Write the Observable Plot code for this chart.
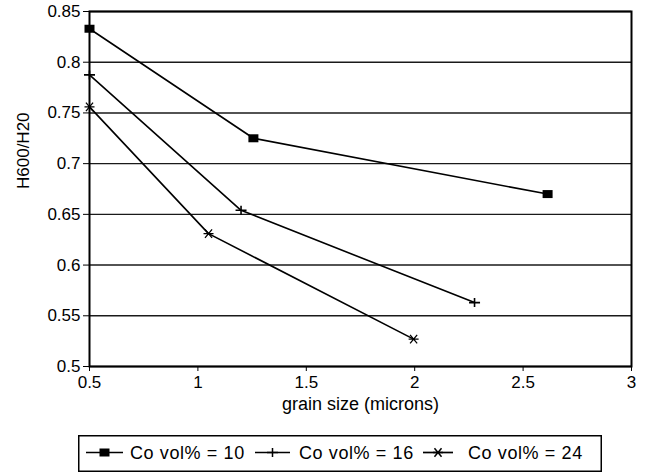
<!DOCTYPE html>
<html><head><meta charset="utf-8">
<script src="https://cdn.jsdelivr.net/npm/d3@7"></script>
<script src="https://cdn.jsdelivr.net/npm/@observablehq/plot@0.6"></script>
<style>
html,body{margin:0;padding:0;background:#fff;}
#wrap{position:relative;width:647px;height:475px;font-family:"Liberation Sans",Arial,sans-serif;overflow:hidden;}
#wrap svg{display:block;}
#legend{position:absolute;left:78px;top:435px;}
</style></head><body><div id="wrap"></div>
<script>
// ---- data ----
const seriesNames = ["Co vol% = 10", "Co vol% = 16", "Co vol% = 24"];
const grain10 = [0.5, 1.256, 2.613];
const ratio10 = [0.833, 0.725, 0.670];
const grain16 = [0.5, 1.199, 2.276];
const ratio16 = [0.7875, 0.654, 0.563];
const grain24 = [0.5, 1.049, 1.995];
const ratio24 = [0.756, 0.631, 0.527];
const xTicks = [0.5, 1, 1.5, 2, 2.5, 3];
const xTickLabels = ["0.5", "1", "1.5", "2", "2.5", "3"];
const yTicks = [0.5, 0.55, 0.6, 0.65, 0.7, 0.75, 0.8, 0.85];
const yTickLabels = ["0.5", "0.55", "0.6", "0.65", "0.7", "0.75", "0.8", "0.85"];
const xLabel = "grain size (microns)";
const yLabel = "H600/H20";

const toRows = (xs, ys) => xs.map((x, i) => ({x, y: ys[i]}));
const d10 = toRows(grain10, ratio10);
const d16 = toRows(grain16, ratio16);
const d24 = toRows(grain24, ratio24);

// ---- marker symbols ----
const squareSym = {draw(ctx) { ctx.rect(-5, -4, 10, 8); }};
const plusSym = {draw(ctx) { ctx.moveTo(-5.5, 0); ctx.lineTo(5.5, 0); ctx.moveTo(0, -4.5); ctx.lineTo(0, 4.5); }};
const starSym = {draw(ctx) {
  ctx.moveTo(-5, 0); ctx.lineTo(5, 0);
  const a = 50 * Math.PI / 180, r = 5.5;
  ctx.moveTo(-r * Math.cos(a), -r * Math.sin(a)); ctx.lineTo(r * Math.cos(a), r * Math.sin(a));
  ctx.moveTo(-r * Math.cos(a), r * Math.sin(a)); ctx.lineTo(r * Math.cos(a), -r * Math.sin(a));
}};

const font = "Liberation Sans, Arial, sans-serif";
const chart = Plot.plot({
  width: 647, height: 420,
  marginLeft: 89, marginRight: 16, marginTop: 11, marginBottom: 54,
  style: {fontFamily: font, fontSize: "17px", color: "#000", background: "#fff"},
  x: {domain: [0.5, 3]},
  y: {domain: [0.5, 0.85]},
  marks: [
    Plot.ruleY(yTicks, {stroke: "#1a1a1a", strokeWidth: 1.4}),
    Plot.frame({stroke: "#000", strokeWidth: 2}),
    Plot.axisY({ticks: yTicks, tickFormat: d => yTickLabels[yTicks.indexOf(d)], tickSize: 6, tickPadding: 3, tickStrokeWidth: 1.5, label: null, fontSize: 17}),
    Plot.axisX({ticks: xTicks, tickFormat: d => xTickLabels[xTicks.indexOf(d)], tickSize: 5, tickPadding: 4, label: null, fontSize: 17}),
    Plot.line(d10, {x: "x", y: "y", stroke: "#000", strokeWidth: 1.6}),
    Plot.line(d16, {x: "x", y: "y", stroke: "#000", strokeWidth: 1.6}),
    Plot.line(d24, {x: "x", y: "y", stroke: "#000", strokeWidth: 1.6}),
    Plot.dot(d10, {x: "x", y: "y", symbol: squareSym, fill: "#000", stroke: "none"}),
    Plot.dot(d16, {x: "x", y: "y", symbol: plusSym, fill: "none", stroke: "#000", strokeWidth: 1.6}),
    Plot.dot(d24, {x: "x", y: "y", symbol: starSym, fill: "none", stroke: "#000", strokeWidth: 1.3}),
    Plot.text([yLabel], {text: d => d, frameAnchor: "left", dx: -66, rotate: -90, lineAnchor: "middle", fontSize: 17}),
    Plot.text([xLabel], {text: d => d, frameAnchor: "bottom", dy: 38, lineAnchor: "middle", fontSize: 18})
  ]
});
const wrap = document.getElementById("wrap");
wrap.appendChild(chart);

// ---- legend ----
const LW = 524, LH = 37;
const leg = d3.create("svg").attr("id", "legend").attr("width", LW).attr("height", LH)
  .style("font-family", font);
leg.append("rect").attr("x", 0.75).attr("y", 0.75).attr("width", LW - 1.5).attr("height", LH - 1.5)
  .attr("fill", "#fff").attr("stroke", "#000").attr("stroke-width", 1.5);
const items = [
  {x0: 8, x1: 45, sym: squareSym, fill: "#000", stroke: "none", tx: 52},
  {x0: 177, x1: 212, sym: plusSym, fill: "none", stroke: "#000", tx: 221},
  {x0: 345, x1: 375, sym: starSym, fill: "none", stroke: "#000", tx: 390}
];
items.forEach((it, i) => {
  const cy = 17.5;
  leg.append("line").attr("x1", it.x0).attr("x2", it.x1).attr("y1", cy).attr("y2", cy)
    .attr("stroke", "#000").attr("stroke-width", 1.7);
  leg.append("path").attr("d", d3.symbol(it.sym)())
    .attr("transform", `translate(${(it.x0 + it.x1) / 2},${cy})`)
    .attr("fill", it.fill).attr("stroke", it.stroke).attr("stroke-width", 1.5);
  leg.append("text").attr("x", it.tx).attr("y", cy).attr("dy", "0.36em")
    .attr("font-size", 18).attr("letter-spacing", "0.6px").text(seriesNames[i]);
});
wrap.appendChild(leg.node());
</script></body></html>
